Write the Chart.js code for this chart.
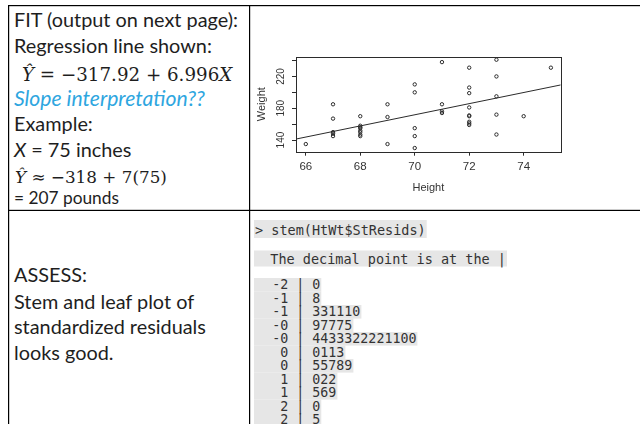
<!DOCTYPE html>
<html><head><meta charset="utf-8">
<script src="https://cdn.jsdelivr.net/npm/chart.js@4.4.0/dist/chart.umd.min.js"></script>
<style>
html,body{margin:0;padding:0;background:#fff;}
#page{position:relative;width:640px;height:424px;overflow:hidden;background:#fff;}
#ov{position:absolute;left:0;top:0;}
#cv{position:absolute;left:250px;top:7px;}
</style></head>
<body>
<div id="page">
<svg id="ov" width="640" height="424" xmlns="http://www.w3.org/2000/svg">
  <g fill="#000">
    <rect x="8" y="5" width="632" height="1.2"/>
    <rect x="8" y="5" width="1.2" height="419"/>
    <rect x="249" y="5" width="1.2" height="419"/>
    <rect x="8" y="209.8" width="632" height="1.2"/>
  </g>
  <g id="left" fill="#1e1e1e" font-family="Lato, 'Open Sans', sans-serif" font-size="19">
    <text class="u" x="14" y="27.3" data-w="224">FIT (output on next page):</text>
    <text class="u" x="14" y="52.7" data-w="198">Regression line shown:</text>
    <text x="22" y="81" data-w="210" font-family="'DejaVu Serif', serif" font-size="18.3"><tspan font-style="italic">Ŷ</tspan> = −317.92 + 6.996<tspan font-style="italic">X</tspan></text>
    <text x="14" y="105.7" data-w="191" fill="#2ea6df" font-style="italic">Slope interpretation??</text>
    <text class="u" x="14" y="131" data-w="83">Example:</text>
    <text class="u" x="14" y="156.7" data-w="112"><tspan font-style="italic">X</tspan> = 75 inches</text>
    <text x="15" y="183" data-w="152" font-family="'DejaVu Serif', serif" font-size="17"><tspan font-style="italic">Ŷ</tspan> ≈ −318 + 7(75)</text>
    <text x="14" y="204" data-w="105" font-size="17">= 207 pounds</text>
    <text class="u" x="14" y="282" data-w="66">ASSESS:</text>
    <text class="u" x="14" y="309" data-w="180">Stem and leaf plot of</text>
    <text class="u" x="14" y="334" data-w="193">standardized residuals</text>
    <text class="u" x="14" y="360" data-w="96">looks good.</text>
  </g>
  <g id="cons"></g>
</svg>
<canvas id="cv" width="388" height="202"></canvas>
</div>
<script>
// ---- data ----
const heights = [66,
  67,67,67,67,67,
  68,68,68,68,68,68,68,68,
  69,69,69,
  70,70,70,70,70,
  71,71,71,71,
  72,72,72,72,72,72,72,72,72,
  73,73,73,73,73,
  74,
  75];
const weights = [135,
  185,167,150,148,145,
  170,158,156,155,152,150,147,145,
  185,169,135,
  210,200,155,145,130,
  238,185,176,174,
  231,206,199,181,171,170,163,161,159,
  241,220,195,172,147,
  170,
  231];
const intercept = -317.92;
const slope = 6.996;
const xTicks = [66, 68, 70, 72, 74];
const yTicks = [140, 160, 180, 200, 220, 240];
const yLabels = [140, 180, 220];
const xRange = [65.64, 75.36];
const yRange = [125.4, 244.8];
const consoleCmd = '> stem(HtWt$StResids)';
const consoleNote = '  The decimal point is at the |';
const stems = ['-2','-1','-1','-0','-0','0','0','1','1','2','2'];
const leaves = ['0','8','331110','97775','4433322221100','0113','55789','022','569','0','5'];

// ---- text fitting ----
const uniform = [];
document.querySelectorAll('#left text').forEach(el => {
  const target = parseFloat(el.dataset.w);
  const fs = parseFloat(el.getAttribute('font-size') || 19);
  const w = el.getComputedTextLength();
  if (w > 0) {
    const nf = fs * target / w;
    el.setAttribute('font-size', nf.toFixed(2));
    if (el.classList.contains('u')) uniform.push(nf);
  }
});
if (uniform.length) {
  const s = uniform.slice().sort((a, b) => a - b);
  const med = s[Math.floor(s.length / 2)];
  document.querySelectorAll('#left text.u').forEach(el => el.setAttribute('font-size', med.toFixed(2)));
}

// ---- console block ----
const NS = 'http://www.w3.org/2000/svg';
const cons = document.getElementById('cons');
const BG = '#e6e6e6';
function consLine(txt, x, base, size, rectTop, rectH, rectX) {
  const t = document.createElementNS(NS, 'text');
  t.setAttribute('x', x); t.setAttribute('y', base);
  t.setAttribute('font-family', "'DejaVu Sans Mono', monospace");
  t.setAttribute('font-size', size);
  t.setAttribute('fill', '#333');
  t.setAttribute('xml:space', 'preserve');
  t.style.whiteSpace = 'pre';
  t.textContent = txt;
  cons.appendChild(t);
  const w = t.getComputedTextLength();
  const r = document.createElementNS(NS, 'rect');
  r.setAttribute('x', rectX); r.setAttribute('y', rectTop);
  r.setAttribute('width', (x + w + 1 - rectX).toFixed(1));
  r.setAttribute('height', rectH);
  r.setAttribute('fill', BG);
  cons.insertBefore(r, cons.firstChild);
}
consLine(consoleCmd, 255, 235, 13.5, 220, 18, 254);
consLine(consoleNote, 254, 264, 13.5, 250.5, 16, 254);
stems.forEach((s, i) => {
  const line = (s.length === 1 ? '   ' : '  ') + s + ' | ' + leaves[i];
  const base = 289 + i * 13.5;
  consLine(line, 256.3, base, 13.3, base - 11, 13.6, 254);
});

// ---- chart ----
const pts = heights.map((h, i) => ({x: h, y: weights[i]}));
const fitLine = xRange.map(x => ({x: x, y: intercept + slope * x}));
const INK = '#2b2b2b';
const rPlot = {
  id: 'rplot',
  afterDraw(chart) {
    const {ctx, chartArea: a, scales} = chart;
    ctx.save();
    ctx.strokeStyle = INK; ctx.lineWidth = 1;
    ctx.strokeRect(Math.round(a.left) + 0.5, Math.round(a.top) + 0.5,
                   Math.round(a.right - a.left), Math.round(a.bottom - a.top));
    ctx.fillStyle = '#333';
    ctx.font = "10px 'Liberation Sans', Arial, sans-serif";
    ctx.textAlign = 'center'; ctx.textBaseline = 'middle';
    yLabels.forEach(v => {
      const py = scales.y.getPixelForValue(v);
      ctx.save(); ctx.translate(a.left - 14.3, py); ctx.rotate(-Math.PI / 2);
      ctx.fillText(String(v), 0, 0); ctx.restore();
    });
    ctx.font = "11px 'Liberation Sans', Arial, sans-serif";
    ctx.fillText('Height', (a.left + a.right) / 2, 180.7);
    ctx.save(); ctx.translate(11.7, (a.top + a.bottom) / 2); ctx.rotate(-Math.PI / 2);
    ctx.fillText('Weight', 0, 0); ctx.restore();
    ctx.restore();
  }
};
new Chart(document.getElementById('cv'), {
  type: 'scatter',
  data: {
    datasets: [
      {data: pts, pointRadius: 1.7, pointHoverRadius: 1.7, borderWidth: 1,
       borderColor: INK, backgroundColor: 'rgba(0,0,0,0)', pointStyle: 'circle'},
      {type: 'line', data: fitLine, showLine: true, pointRadius: 0,
       borderColor: INK, borderWidth: 1, fill: false}
    ]
  },
  plugins: [rPlot],
  options: {
    responsive: false, animation: false, devicePixelRatio: 1,
    layout: {padding: {top: 49.7, right: 77.3, bottom: 0, left: 0}},
    plugins: {legend: {display: false}, tooltip: {enabled: false}},
    scales: {
      x: {
        type: 'linear', min: xRange[0], max: xRange[1],
        afterBuildTicks: s => { s.ticks = xTicks.map(v => ({value: v})); },
        afterFit: s => { s.height = 57.3; },
        ticks: {autoSkip: false, maxRotation: 0, padding: 4, color: '#333',
                font: {family: "'Liberation Sans', Arial, sans-serif", size: 11.5},
                callback: v => String(v)},
        grid: {drawOnChartArea: false, drawTicks: true, tickLength: 4, color: INK},
        border: {display: false}
      },
      y: {
        type: 'linear', min: yRange[0], max: yRange[1],
        afterBuildTicks: s => { s.ticks = yTicks.map(v => ({value: v})); },
        afterFit: s => { s.width = 46; },
        ticks: {display: false},
        grid: {drawOnChartArea: false, drawTicks: true, tickLength: 4, color: INK},
        border: {display: false}
      }
    }
  }
});
</script>
</body></html>
